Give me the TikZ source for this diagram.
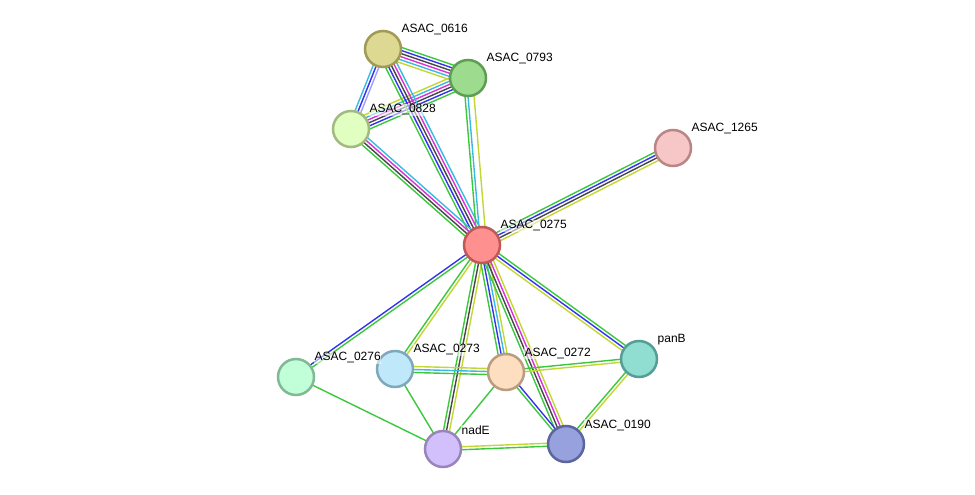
\documentclass[tikz,border=0pt]{standalone}
\usepackage{fontspec}
\setmainfont{Liberation Sans}
\usetikzlibrary{calc}
\pgfdeclarelayer{bg}
\pgfsetlayers{bg,main}
\definecolor{sgreen}{RGB}{60,200,60}
\definecolor{sblue}{RGB}{50,50,240}
\definecolor{sblack}{RGB}{70,70,70}
\definecolor{smag}{RGB}{215,50,215}
\definecolor{scyan}{RGB}{60,185,225}
\definecolor{syel}{RGB}{195,215,50}
\definecolor{slav}{RGB}{160,160,250}
\tikzset{
  prot/.style={circle, minimum size=36pt, inner sep=0pt, line width=2.5pt},
  lbl/.style={anchor=west, inner sep=0.5pt, font=\fontsize{12}{14}\selectfont, fill=white, fill opacity=0.55, text opacity=1},
  edgeline/.style={line width=1.4pt}
}
\newcommand{\sedge}[4]{%
  \foreach \ecol [count=\ei] in {#4} {%
    \pgfmathsetmacro\eoff{((#3+1)/2-\ei)*3}%
    \draw[edgeline, draw=\ecol] ($(#1.center)!\eoff pt!90:(#2.center)$) -- ($(#2.center)!\eoff pt!-90:(#1.center)$);
  }}
\begin{document}
\begin{tikzpicture}[x=1pt,y=-1pt]
\useasboundingbox (0,0) rectangle (975,495);
% nodes
\node[prot, fill={rgb,255:red,221;green,217;blue,147}, draw={rgb,255:red,160;green,154;blue,85}] (n0616) at (383,49) {};
\node[prot, fill={rgb,255:red,157;green,220;blue,142}, draw={rgb,255:red,94;green,158;blue,82}] (n0793) at (468,78) {};
\node[prot, fill={rgb,255:red,224;green,255;blue,192}, draw={rgb,255:red,160;green,186;blue,128}] (n0828) at (351,129) {};
\node[prot, fill={rgb,255:red,247;green,199;blue,199}, draw={rgb,255:red,186;green,133;blue,133}] (n1265) at (673,148) {};
\node[prot, fill={rgb,255:red,255;green,144;blue,144}, draw={rgb,255:red,192;green,88;blue,88}] (n0275) at (482,245) {};
\node[prot, fill={rgb,255:red,192;green,255;blue,216}, draw={rgb,255:red,128;green,186;blue,149}] (n0276) at (296,377) {};
\node[prot, fill={rgb,255:red,192;green,232;blue,251}, draw={rgb,255:red,127;green,168;blue,186}] (n0273) at (395,369) {};
\node[prot, fill={rgb,255:red,253;green,222;blue,192}, draw={rgb,255:red,186;green,156;blue,128}] (n0272) at (506,372) {};
\node[prot, fill={rgb,255:red,144;green,221;blue,210}, draw={rgb,255:red,85;green,158;blue,149}] (panB) at (639,359) {};
\node[prot, fill={rgb,255:red,210;green,192;blue,252}, draw={rgb,255:red,154;green,133;blue,186}] (nadE) at (443,449) {};
\node[prot, fill={rgb,255:red,151;green,161;blue,221}, draw={rgb,255:red,91;green,102;blue,158}] (n0190) at (566,444) {};
% labels
\node[lbl] (l0616) at (401,30) {ASAC\_0616};
\node[lbl] (l0793) at (486,59) {ASAC\_0793};
\node[lbl] (l0828) at (369,110) {ASAC\_0828};
\node[lbl] (l1265) at (691,129) {ASAC\_1265};
\node[lbl] (l0275) at (500,226) {ASAC\_0275};
\node[lbl] (l0276) at (314,358) {ASAC\_0276};
\node[lbl] (l0273) at (413,350) {ASAC\_0273};
\node[lbl] (l0272) at (524,353) {ASAC\_0272};
\node[lbl] (lpanB) at (657,340) {panB};
\node[lbl] (lnadE) at (461,430) {nadE};
\node[lbl] (l0190) at (584,425) {ASAC\_0190};
% edges
\begin{pgfonlayer}{bg}
\sedge{n0616}{n0793}{6}{sgreen,sblue,sblack,smag,scyan,syel}
\sedge{n0828}{n0793}{6}{syel,scyan,smag,sblack,sblue,sgreen}
\sedge{n0616}{n0828}{3}{slav,sblue,scyan}
\sedge{n0616}{n0275}{5}{scyan,smag,sblack,sblue,sgreen}
\sedge{n0828}{n0275}{4}{scyan,smag,sblack,sgreen}
\sedge{n0793}{n0275}{4}{syel,none,scyan,sgreen}
\sedge{n0275}{n1265}{4}{sgreen,sblue,sblack,syel}
\sedge{n0275}{n0276}{2}{sgreen,sblue}
\sedge{n0275}{n0273}{2}{syel,sgreen}
\sedge{n0275}{nadE}{3}{syel,sblack,sgreen}
\sedge{n0275}{n0272}{4}{syel,scyan,sblue,sgreen}
\sedge{n0275}{n0190}{4}{syel,smag,sblack,sgreen}
\sedge{n0275}{panB}{3}{sgreen,sblue,syel}
\sedge{n0273}{n0272}{3}{syel,scyan,sgreen}
\sedge{n0272}{panB}{2}{sgreen,syel}
\sedge{n0272}{n0190}{2}{sblue,sgreen}
\sedge{n0272}{nadE}{1}{sgreen}
\sedge{n0273}{nadE}{1}{sgreen}
\sedge{n0276}{nadE}{1}{sgreen}
\sedge{nadE}{n0190}{2}{syel,sgreen}
\sedge{panB}{n0190}{2}{syel,sgreen}
\end{pgfonlayer}
\end{tikzpicture}
\end{document}
